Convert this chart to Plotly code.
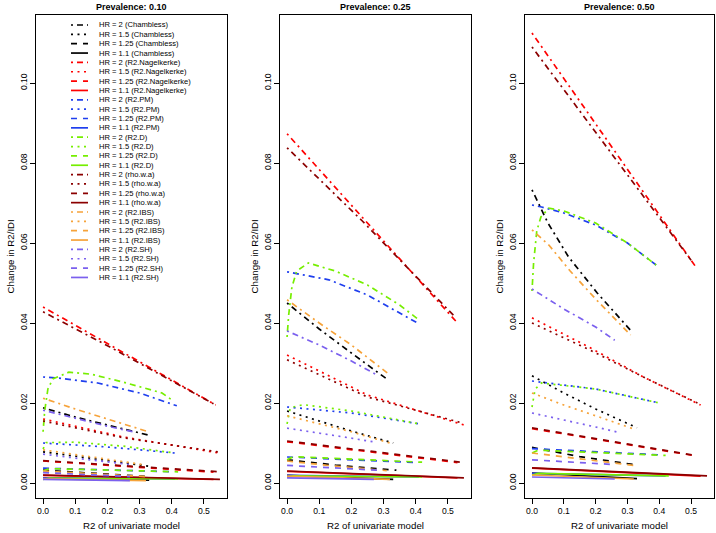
import plotly.graph_objects as go

methods = ["Chambless", "R2.Nagelkerke", "R2.PM", "R2.D", "rho.w.a", "R2.IBS", "R2.SH"]
colors = ["#000000", "#FF0000", "#1F3FEE", "#76EE00", "#8B0000", "#F6A33A", "#7B60EE"]
hr_values = ["2", "1.5", "1.25", "1.1"]
dashes = ["2px,4px,6px,4px", "2px,4.5px", "6px,6px", "solid"]
prevalences = ["0.10", "0.25", "0.50"]
x_ticks = [0.0, 0.1, 0.2, 0.3, 0.4, 0.5]
y_ticks = [0.00, 0.02, 0.04, 0.06, 0.08, 0.10]

# one curve per HR (2, 1.5, 1.25, 1.1), each as (x, y) points
# ---- prevalence 0.10
p10_chambless = [
    ([0, 0.1, 0.2, 0.326], [0.0188, 0.0165, 0.0145, 0.0120]),
    ([0, 0.15, 0.33], [0.0078, 0.0062, 0.0042]),
    ([0, 0.15, 0.33], [0.0032, 0.0024, 0.0016]),
    ([0, 0.33], [0.0013, 0.0007]),
]
p10_nagelkerke = [
    ([0, 0.208, 0.537], [0.0440, 0.0345, 0.0195]),
    ([0, 0.25, 0.547], [0.0160, 0.0115, 0.0075]),
    ([0, 0.53], [0.0055, 0.0027]),
    ([0, 0.53], [0.0019, 0.0009]),
]
p10_pm = [
    ([0, 0.05, 0.17, 0.3, 0.416], [0.0265, 0.0262, 0.0250, 0.0225, 0.0193]),
    ([0, 0.2, 0.41], [0.0100, 0.0090, 0.0075]),
    ([0, 0.41], [0.0037, 0.0028]),
    ([0, 0.41], [0.0013, 0.0010]),
]
p10_d = [
    ([0, 0.005, 0.015, 0.03, 0.08, 0.15, 0.25, 0.37, 0.40],
     [0.0128, 0.018, 0.0235, 0.026, 0.0277, 0.0272, 0.0252, 0.0225, 0.0208]),
    ([0, 0.01, 0.1, 0.25, 0.41], [0.0085, 0.0101, 0.0102, 0.0092, 0.0075]),
    ([0, 0.02, 0.42], [0.0030, 0.0036, 0.0028]),
    ([0, 0.02, 0.42], [0.0009, 0.0012, 0.0010]),
]
p10_rho = [
    ([0, 0.208, 0.53], [0.0428, 0.0340, 0.0198]),
    ([0, 0.25, 0.55], [0.0155, 0.0113, 0.0077]),
    ([0, 0.55], [0.0056, 0.0028]),
    ([0, 0.55], [0.0020, 0.0009]),
]
p10_ibs = [
    ([0, 0.1, 0.2, 0.32], [0.0212, 0.0185, 0.0160, 0.0130]),
    ([0, 0.15, 0.32], [0.0083, 0.0065, 0.0045]),
    ([0, 0.15, 0.32], [0.0030, 0.0023, 0.0016]),
    ([0, 0.32], [0.0011, 0.0006]),
]
p10_sh = [
    ([0, 0.1, 0.2, 0.28], [0.0182, 0.0162, 0.0142, 0.0128]),
    ([0, 0.15, 0.27], [0.0072, 0.0058, 0.0046]),
    ([0, 0.27], [0.0026, 0.0016]),
    ([0, 0.27], [0.0009, 0.0006]),
]

# ---- prevalence 0.25
p25_chambless = [
    ([0, 0.1, 0.2, 0.31], [0.0450, 0.0385, 0.0325, 0.0260]),
    ([0, 0.1, 0.2, 0.33], [0.0180, 0.0155, 0.0130, 0.0100]),
    ([0, 0.15, 0.34], [0.0058, 0.0045, 0.0032]),
    ([0, 0.33], [0.0019, 0.0009]),
]
p25_nagelkerke = [
    ([0, 0.234, 0.53], [0.0873, 0.0664, 0.0400]),
    ([0, 0.25, 0.55], [0.0320, 0.0220, 0.0145]),
    ([0, 0.53], [0.0103, 0.0051]),
    ([0, 0.53], [0.0029, 0.0013]),
]
p25_pm = [
    ([0, 0.13, 0.25, 0.41], [0.0528, 0.0508, 0.0470, 0.0398]),
    ([0, 0.2, 0.41], [0.0190, 0.0175, 0.0148]),
    ([0, 0.41], [0.0065, 0.0051]),
    ([0, 0.41], [0.0019, 0.0015]),
]
p25_d = [
    ([0, 0.005, 0.015, 0.03, 0.066, 0.15, 0.25, 0.35, 0.41],
     [0.0365, 0.042, 0.049, 0.053, 0.055, 0.053, 0.0495, 0.0445, 0.0408]),
    ([0, 0.01, 0.05, 0.2, 0.41], [0.0148, 0.0188, 0.0196, 0.0180, 0.0148]),
    ([0, 0.02, 0.42], [0.0058, 0.0066, 0.0052]),
    ([0, 0.02, 0.42], [0.0015, 0.0018, 0.0015]),
]
p25_rho = [
    ([0, 0.234, 0.525], [0.0838, 0.0655, 0.0413]),
    ([0, 0.25, 0.545], [0.0308, 0.0215, 0.0150]),
    ([0, 0.54], [0.0105, 0.0052]),
    ([0, 0.55], [0.0030, 0.0013]),
]
p25_ibs = [
    ([0, 0.1, 0.2, 0.32], [0.0458, 0.0400, 0.0345, 0.0270]),
    ([0, 0.1, 0.2, 0.32], [0.0168, 0.0148, 0.0128, 0.0100]),
    ([0, 0.15, 0.31], [0.0055, 0.0042, 0.0031]),
    ([0, 0.32], [0.0017, 0.0009]),
]
p25_sh = [
    ([0, 0.1, 0.2, 0.28], [0.0380, 0.0345, 0.0305, 0.0270]),
    ([0, 0.1, 0.2, 0.275], [0.0137, 0.0125, 0.0112, 0.0102]),
    ([0, 0.28], [0.0044, 0.0032]),
    ([0, 0.27], [0.0013, 0.0009]),
]

# ---- prevalence 0.50
p50_chambless = [
    ([0, 0.05, 0.115, 0.205, 0.314], [0.0733, 0.0650, 0.0565, 0.0475, 0.0378]),
    ([0, 0.1, 0.2, 0.33], [0.0268, 0.0225, 0.0185, 0.0138]),
    ([0, 0.15, 0.33], [0.0089, 0.0066, 0.0045]),
    ([0, 0.33], [0.0025, 0.0011]),
]
p50_nagelkerke = [
    ([0, 0.183, 0.515], [0.1125, 0.0917, 0.0540]),
    ([0, 0.183, 0.35, 0.53], [0.0413, 0.0338, 0.0265, 0.0195]),
    ([0, 0.52], [0.0136, 0.0067]),
    ([0, 0.53], [0.0037, 0.0017]),
]
p50_pm = [
    ([0, 0.03, 0.1, 0.2, 0.3, 0.39], [0.0695, 0.0690, 0.0675, 0.0645, 0.0600, 0.0545]),
    ([0, 0.2, 0.40], [0.0255, 0.0235, 0.0200]),
    ([0, 0.41], [0.0086, 0.0070]),
    ([0, 0.42], [0.0024, 0.0018]),
]
p50_d = [
    ([0, 0.005, 0.015, 0.028, 0.053, 0.1, 0.2, 0.3, 0.39],
     [0.048, 0.055, 0.063, 0.0665, 0.0687, 0.068, 0.065, 0.060, 0.0545]),
    ([0, 0.01, 0.03, 0.2, 0.40], [0.0190, 0.0235, 0.0250, 0.0235, 0.0200]),
    ([0, 0.02, 0.42], [0.0075, 0.0082, 0.0069]),
    ([0, 0.02, 0.43], [0.0020, 0.0024, 0.0018]),
]
p50_rho = [
    ([0, 0.183, 0.50], [0.1090, 0.0895, 0.0557]),
    ([0, 0.183, 0.35, 0.52], [0.0400, 0.0332, 0.0265, 0.0200]),
    ([0, 0.52], [0.0138, 0.0068]),
    ([0, 0.55], [0.0038, 0.0018]),
]
p50_ibs = [
    ([0, 0.053, 0.12, 0.2, 0.31], [0.0633, 0.0595, 0.0530, 0.0460, 0.0370]),
    ([0, 0.1, 0.2, 0.32], [0.0225, 0.0195, 0.0168, 0.0135]),
    ([0, 0.15, 0.32], [0.0075, 0.0060, 0.0044]),
    ([0, 0.32], [0.0020, 0.0010]),
]
p50_sh = [
    ([0, 0.1, 0.2, 0.26], [0.0485, 0.0435, 0.0390, 0.0357]),
    ([0, 0.1, 0.2, 0.27], [0.0175, 0.0158, 0.0140, 0.0127]),
    ([0, 0.26], [0.0058, 0.0046]),
    ([0, 0.26], [0.0015, 0.0010]),
]

panels = [
    [p10_chambless, p10_nagelkerke, p10_pm, p10_d, p10_rho, p10_ibs, p10_sh],
    [p25_chambless, p25_nagelkerke, p25_pm, p25_d, p25_rho, p25_ibs, p25_sh],
    [p50_chambless, p50_nagelkerke, p50_pm, p50_d, p50_rho, p50_ibs, p50_sh],
]

W, H = 716, 533
FONT = "Liberation Sans, Arial, sans-serif"
LW = 1.7
boxes = [(36, 227), (280, 471), (525, 714)]
box_top, box_bottom = 15, 498

fig = go.Figure()

for p, curves in enumerate(panels):
    ax = "" if p == 0 else str(p + 1)
    for m, method in enumerate(methods):
        for h, hr in enumerate(hr_values):
            xs, ys = curves[m][h]
            fig.add_trace(
                go.Scatter(
                    x=xs,
                    y=ys,
                    mode="lines",
                    line=dict(color=colors[m], width=LW, dash=dashes[h]),
                    name=f"HR = {hr} ({method})",
                    showlegend=False,
                    xaxis="x" + ax,
                    yaxis="y" + ax,
                )
            )

layout = dict(
    width=W,
    height=H,
    margin=dict(l=0, r=0, t=0, b=0),
    paper_bgcolor="white",
    plot_bgcolor="white",
    font=dict(family=FONT, color="black", size=9),
    showlegend=False,
)

axis_common = dict(
    showline=True,
    mirror=True,
    linecolor="black",
    linewidth=1,
    showgrid=False,
    zeroline=False,
    ticks="outside",
    ticklen=5,
    tickwidth=1,
    tickcolor="black",
    tickfont=dict(size=8.6, family=FONT),
)

annotations = []
shapes = []
for p, (left, right) in enumerate(boxes):
    ax = "" if p == 0 else str(p + 1)
    layout["xaxis" + ax] = dict(
        axis_common,
        domain=[left / W, right / W],
        range=[-0.022, 0.572],
        tickvals=x_ticks,
        ticktext=[f"{v:.1f}" for v in x_ticks],
        anchor="y" + ax,
    )
    layout["yaxis" + ax] = dict(
        axis_common,
        domain=[1 - box_bottom / H, 1 - box_top / H],
        range=[-0.00375, 0.117],
        tickvals=y_ticks,
        ticktext=[f"{v:.2f}" for v in y_ticks],
        tickangle=-90,
        anchor="x" + ax,
    )
    cx = (left + right) / 2 / W
    annotations.append(dict(
        text=f"<b>Prevalence: {prevalences[p]}</b>", x=cx, y=1 - 7 / H,
        xref="paper", yref="paper", showarrow=False,
        xanchor="center", yanchor="middle", font=dict(size=9, family=FONT),
    ))
    annotations.append(dict(
        text="R2 of univariate model", x=cx, y=1 - 525 / H,
        xref="paper", yref="paper", showarrow=False,
        xanchor="center", yanchor="middle", font=dict(size=9.7, family=FONT),
    ))
    annotations.append(dict(
        text="Change in R2/IDI", x=(left - 26) / W, y=1 - (box_top + box_bottom) / 2 / H,
        xref="paper", yref="paper", showarrow=False, textangle=-90,
        xanchor="center", yanchor="middle", font=dict(size=9.7, family=FONT),
    ))

# legend drawn by hand inside the first panel (plotly entries are too tall)
k = 0
for m, method in enumerate(methods):
    for h, hr in enumerate(hr_values):
        yy = 1 - (25 + k * 9.35) / H
        shapes.append(dict(
            type="line", xref="paper", yref="paper",
            x0=71 / W, x1=88 / W, y0=yy, y1=yy,
            line=dict(color=colors[m], width=LW, dash=dashes[h]),
        ))
        annotations.append(dict(
            text=f"HR = {hr} ({method})", x=97 / W, y=yy,
            xref="paper", yref="paper", showarrow=False,
            xanchor="left", yanchor="middle", font=dict(size=7.6, family=FONT),
        ))
        k += 1

layout["annotations"] = annotations
layout["shapes"] = shapes
fig.update_layout(**layout)

# drop the browser's default body margin so the figure sits at the page corner
fig.write_html(
    "out.html",
    config={"displayModeBar": False},
    post_script="document.body.style.margin='0px';",
)
